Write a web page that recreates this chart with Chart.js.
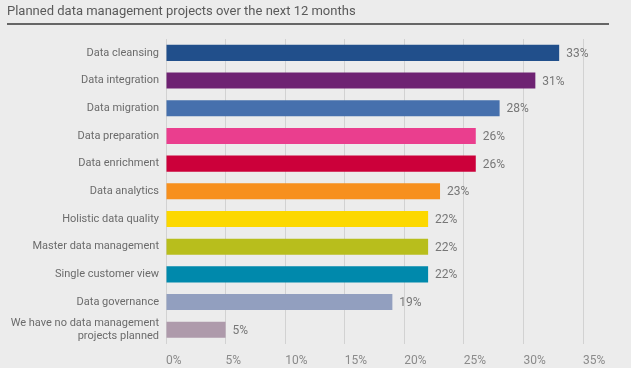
<!DOCTYPE html>
<html>
<head>
<meta charset="utf-8">
<script src="https://cdn.jsdelivr.net/npm/chart.js@4/dist/chart.umd.min.js"></script>
<style>
  html, body { margin: 0; padding: 0; background: #ececec; }
  #wrap { position: relative; width: 631px; height: 368px; overflow: hidden; }
  #title {
    position: absolute; left: 7px; top: 3px;
    font: 13px Roboto, sans-serif; color: #5a5a5a; white-space: nowrap;
  }
  #rule { position: absolute; left: 7px; top: 23px; width: 602px; height: 2px; background: #666; }
  #box { position: absolute; left: 0; top: 0; width: 631px; height: 380px; }
</style>
</head>
<body>
<div id="wrap">
  <div id="box"><canvas id="chart"></canvas></div>
  <div id="title">Planned data management projects over the next 12 months</div>
  <div id="rule"></div>
</div>
<script>
const categories = [
  'Data cleansing',
  'Data integration',
  'Data migration',
  'Data preparation',
  'Data enrichment',
  'Data analytics',
  'Holistic data quality',
  'Master data management',
  'Single customer view',
  'Data governance',
  ['We have no data management', 'projects planned']
]
const values = [33, 31, 28, 26, 26, 23, 22, 22, 22, 19, 5]
const barColors = [
  '#214f8b', '#6e2272', '#4670ad', '#ea3e8e', '#cc003a', '#f7901e',
  '#fcd800', '#b8be1c', '#0089ac', '#929fbf', '#ae9aab'
]
const xTicks = [0, 5, 10, 15, 20, 25, 30, 35]

const valueLabels = {
  id: 'valueLabels',
  afterDatasetsDraw(chart) {
    const ctx = chart.ctx
    const meta = chart.getDatasetMeta(0)
    ctx.save()
    ctx.font = '12px Roboto, sans-serif'
    ctx.fillStyle = '#777'
    ctx.textAlign = 'left'
    ctx.textBaseline = 'middle'
    meta.data.forEach((bar, i) => {
      ctx.fillText(values[i] + '%', bar.x + 7, bar.y + 1)
    })
    ctx.restore()
  }
}

new Chart(document.getElementById('chart'), {
  type: 'bar',
  data: {
    labels: categories,
    datasets: [{
      data: values,
      backgroundColor: barColors,
      borderWidth: 0,
      barPercentage: 0.58,
      categoryPercentage: 1
    }]
  },
  options: {
    indexAxis: 'y',
    responsive: true,
    maintainAspectRatio: false,
    animation: false,
    layout: { padding: { top: 39, right: 48, bottom: 2, left: 0 } },
    plugins: { legend: { display: false }, tooltip: { enabled: false } },
    scales: {
      x: {
        min: 0,
        max: 35,
        afterBuildTicks(scale) { scale.ticks = xTicks.map(v => ({ value: v })) },
        grid: { color: '#d2d2d2', drawTicks: false },
        border: { display: false },
        ticks: {
          align: 'start',
          padding: 10,
          color: '#8a8a8a',
          font: { family: 'Roboto', size: 12 },
          callback: v => v + '%'
        }
      },
      y: {
        afterFit(scale) { scale.width = 166 },
        grid: { display: false, drawTicks: false },
        border: { color: '#d2d2d2' },
        ticks: {
          autoSkip: false,
          padding: 7,
          color: '#6b6b6b',
          font: { family: 'Roboto', size: 11, lineHeight: 1.2 }
        }
      }
    }
  },
  plugins: [valueLabels]
})
</script>
</body>
</html>
